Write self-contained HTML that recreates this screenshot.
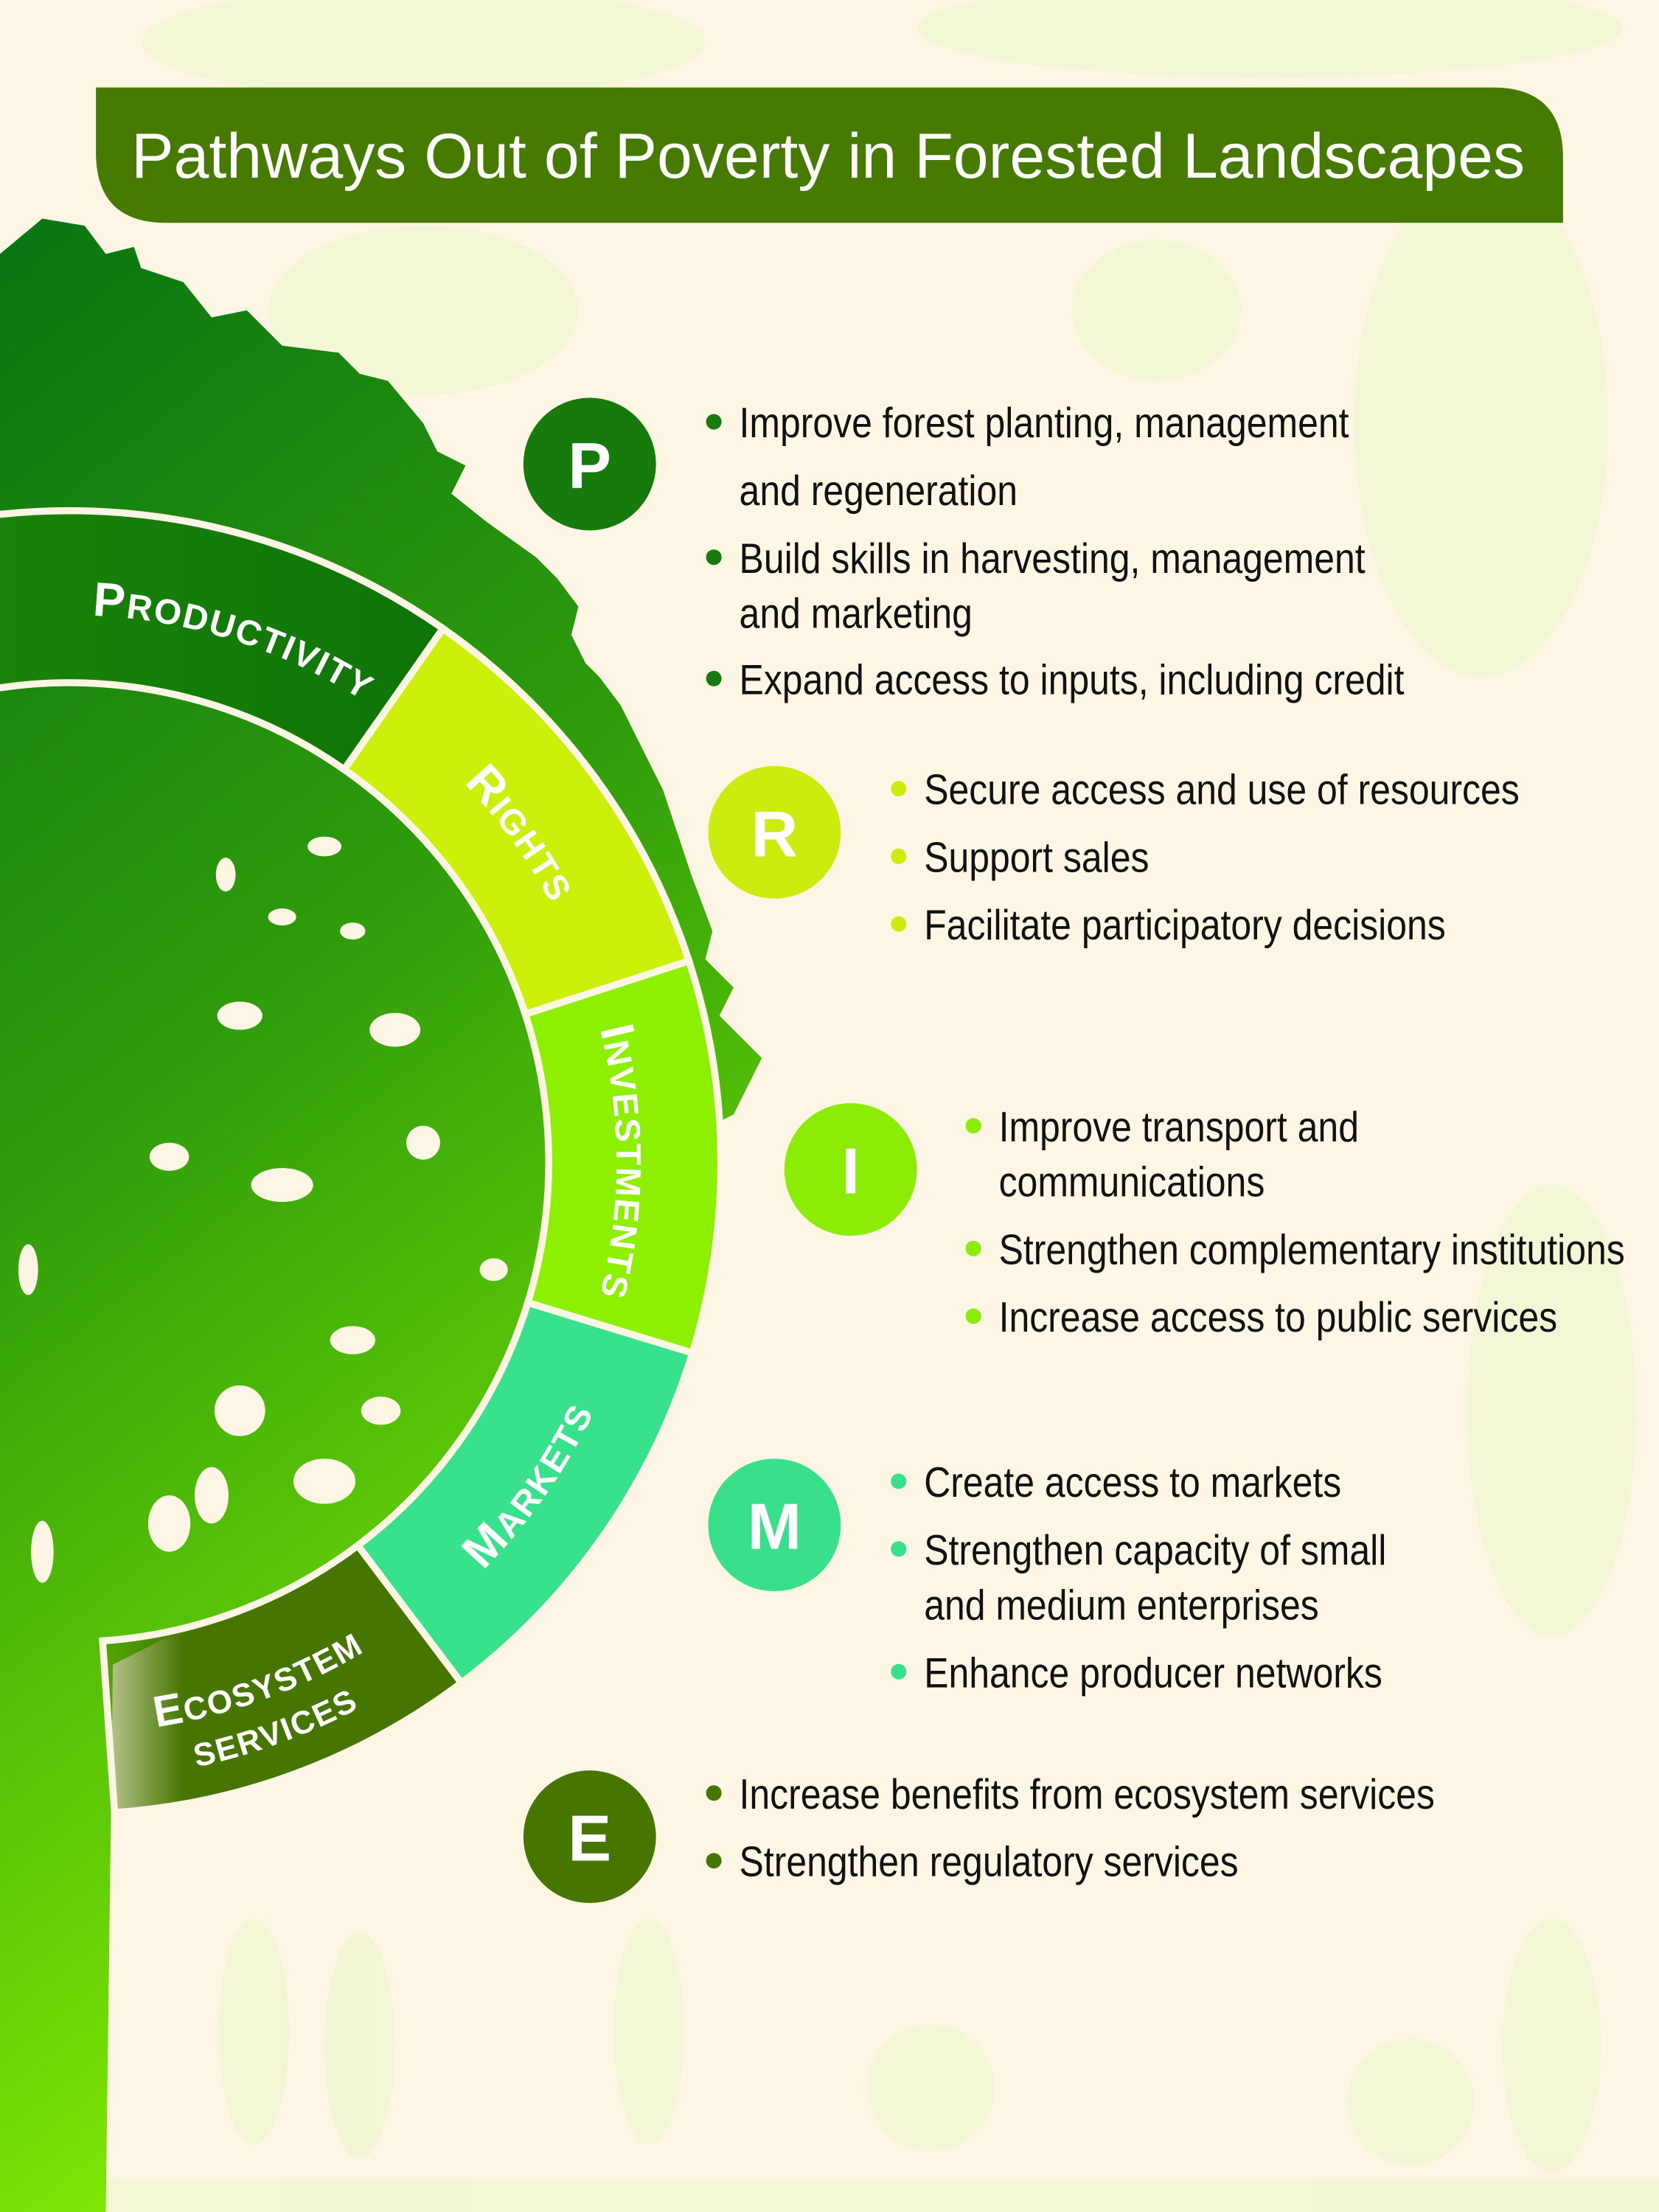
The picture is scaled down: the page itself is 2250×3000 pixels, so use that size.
<!DOCTYPE html>
<html><head><meta charset="utf-8">
<style>
html,body{margin:0;padding:0;background:#fdf6e4;}
svg{display:block;}
</style></head>
<body>
<svg id="s" width="2250" height="3000" viewBox="0 0 1176 1568" preserveAspectRatio="none" xmlns="http://www.w3.org/2000/svg">
<defs>
<linearGradient id="tree" x1="0" y1="0" x2="0.3" y2="1">
<stop offset="0" stop-color="#0a7412"/>
<stop offset="0.45" stop-color="#2f9c0c"/>
<stop offset="0.75" stop-color="#5cc806"/>
<stop offset="1" stop-color="#86ec04"/>
</linearGradient>
<linearGradient id="eco" x1="70" y1="0" x2="130" y2="0" gradientUnits="userSpaceOnUse">
<stop offset="0" stop-color="#467500" stop-opacity="0.3"/>
<stop offset="1" stop-color="#467500"/>
</linearGradient>
<linearGradient id="prod" x1="0" y1="0" x2="1" y2="0">
<stop offset="0" stop-color="#1a8408"/>
<stop offset="1" stop-color="#0f7408"/>
</linearGradient>
</defs>
<rect width="1176" height="1568" fill="#fdf6e4"/>
<g fill="#f0f7d2" opacity="0.8">
<ellipse cx="300" cy="30" rx="200" ry="40"/>
<ellipse cx="900" cy="20" rx="250" ry="35"/>
<ellipse cx="1050" cy="300" rx="90" ry="180"/>
<ellipse cx="820" cy="220" rx="60" ry="50"/>
<ellipse cx="1100" cy="1000" rx="60" ry="160"/>
<ellipse cx="300" cy="220" rx="110" ry="60"/>
<ellipse cx="180" cy="1440" rx="25" ry="80"/>
<ellipse cx="255" cy="1450" rx="25" ry="80"/>
<ellipse cx="460" cy="1440" rx="25" ry="80"/>
<ellipse cx="660" cy="1480" rx="45" ry="45"/>
<ellipse cx="1000" cy="1490" rx="45" ry="45"/>
<ellipse cx="1100" cy="1450" rx="35" ry="90"/>
<rect x="0" y="1545" width="1176" height="23"/>
</g>
<path d="M68,62 H1058 Q1108,62 1108,112 V158 H118 Q68,158 68,108 Z" fill="#467a00"/>
<text x="587" y="126" text-anchor="middle" font-family="Liberation Sans, sans-serif" style="font-size:45px" fill="#fff">Pathways Out of Poverty in Forested Landscapes</text>
<path fill="url(#tree)" d="M0,180 L30,155 L60,160 L75,180 L95,175 L100,190 L130,200 L150,225 L175,220 L200,245 L240,250 L255,265 L275,270 L300,300 L310,320 L330,330 L320,350 L345,370 L380,395 L395,410 L410,430 L405,450 L415,470 L425,480 L440,500 L455,530 L470,560 L480,590 L490,620 L505,660 L500,680 L520,700 L510,720 L540,750 L520,790 L500,800 L460,860 L420,900 L380,960 L340,1020 L300,1080 L270,1110 L200,1140 L120,1160 L80,1180 L75,1568 L0,1568 Z"/>
<g fill="#fdf6e4">
<ellipse cx="160" cy="620" rx="7" ry="12"/><ellipse cx="230" cy="600" rx="12" ry="7"/>
<ellipse cx="200" cy="650" rx="10" ry="6"/><ellipse cx="250" cy="660" rx="9" ry="6"/>
<ellipse cx="170" cy="720" rx="16" ry="10"/><ellipse cx="280" cy="730" rx="18" ry="12"/>
<ellipse cx="120" cy="820" rx="14" ry="10"/><ellipse cx="200" cy="840" rx="22" ry="12"/>
<ellipse cx="300" cy="810" rx="12" ry="12"/><ellipse cx="250" cy="950" rx="16" ry="10"/>
<ellipse cx="170" cy="1000" rx="18" ry="18"/><ellipse cx="230" cy="1050" rx="22" ry="16"/>
<ellipse cx="120" cy="1080" rx="15" ry="20"/><ellipse cx="20" cy="900" rx="7" ry="18"/>
<ellipse cx="30" cy="1100" rx="8" ry="22"/><ellipse cx="350" cy="900" rx="10" ry="8"/>
<ellipse cx="150" cy="1060" rx="12" ry="20"/><ellipse cx="270" cy="1000" rx="14" ry="10"/>
</g>
<g id="ring"></g>
<g font-family="Liberation Sans, sans-serif" font-weight="bold" style="font-size:46px" fill="#fff" text-anchor="middle">
<circle cx="418" cy="329" r="47" fill="#167a0c"/><text x="418" y="346">P</text>
<circle cx="549" cy="590" r="47" fill="#ccec10"/><text x="549" y="607">R</text>
<circle cx="603" cy="829" r="47" fill="#8cec06"/><text x="603" y="846">I</text>
<circle cx="549" cy="1081" r="47" fill="#38e08c"/><text x="549" y="1098">M</text>
<circle cx="418" cy="1302" r="47" fill="#467500"/><text x="418" y="1319">E</text>
</g>
<g id="bul" font-family="Liberation Sans, sans-serif" style="font-size:30px" fill="#111"></g>
</svg>
<script>
var NS="http://www.w3.org/2000/svg";
var cx=49,cy=824,R=462,r=340;
function P(rad,a){a=a*Math.PI/180;return [cx+rad*Math.cos(a),cy+rad*Math.sin(a)];}
function seg(a1,a2,fill){
 var p1=P(R,a1),p2=P(R,a2),p3=P(r,a2),p4=P(r,a1);
 var d="M"+p1+" A"+R+","+R+" 0 0 1 "+p2+" L"+p3+" A"+r+","+r+" 0 0 0 "+p4+" Z";
 var e=document.createElementNS(NS,"path");e.setAttribute("d",d);e.setAttribute("fill",fill);
 e.setAttribute("stroke","#fdf6e4");e.setAttribute("stroke-width","5");
 document.getElementById("ring").appendChild(e);
}
seg(-100,-55,"url(#prod)");seg(-55,-18,"#ccf00a");seg(-18,17,"#8cf000");seg(17,53,"#38e28c");seg(53,86,"url(#eco)");
var n=0;
function lab(rad,a1,a2,cw,big,small,fs){
 var id="tp"+(n++);var p1=P(rad,a1),p2=P(rad,a2);
 var path=document.createElementNS(NS,"path");path.setAttribute("id",id);
 path.setAttribute("d","M"+p1+" A"+rad+","+rad+" 0 0 "+(cw?1:0)+" "+p2);path.setAttribute("fill","none");
 document.getElementById("ring").appendChild(path);
 var t=document.createElementNS(NS,"text");
 t.setAttribute("fill","#fff");
 t.setAttribute("style","font-family:'Liberation Sans',sans-serif;font-weight:bold;font-size:"+fs+"px;letter-spacing:1px");
 var tp=document.createElementNS(NS,"textPath");tp.setAttribute("href","#"+id);
 tp.setAttributeNS("http://www.w3.org/1999/xlink","xlink:href","#"+id);
 tp.setAttribute("startOffset","50%");tp.setAttribute("text-anchor","middle");
 if(big){var s1=document.createElementNS(NS,"tspan");s1.setAttribute("style","font-size:"+Math.round(fs*1.35)+"px");s1.textContent=big;tp.appendChild(s1);}
 var s2=document.createElementNS(NS,"tspan");s2.setAttribute("style","font-size:"+fs+"px");s2.textContent=small;tp.appendChild(s2);
 t.appendChild(tp);document.getElementById("ring").appendChild(t);
}
lab(388,-110,-35,true,"P","RODUCTIVITY",25);
lab(388,-60,-12,true,"R","IGHTS",25);
lab(388,-25,25,true,"I","NVESTMENTS",25);
lab(412,60,10,false,"M","ARKETS",25);
lab(405,98,42,false,"E","COSYSTEM",23);
lab(438,93,47,false,"","SERVICES",23);
var items=[
 [506,299,"#167a0c","Improve forest planting, management"],[506,347,null,"and regeneration"],
 [506,395,"#167a0c","Build skills in harvesting, management"],[506,434,null,"and marketing"],
 [506,481,"#167a0c","Expand access to inputs, including credit"],
 [637,559,"#ccec10","Secure access and use of resources"],[637,607,"#ccec10","Support sales"],
 [637,655,"#ccec10","Facilitate participatory decisions"],
 [690,798,"#8cec06","Improve transport and"],[690,837,null,"communications"],
 [690,885,"#8cec06","Strengthen complementary institutions"],[690,933,"#8cec06","Increase access to public services"],
 [637,1050,"#38e08c","Create access to markets"],[637,1098,"#38e08c","Strengthen capacity of small"],
 [637,1137,null,"and medium enterprises"],[637,1185,"#38e08c","Enhance producer networks"],
 [506,1271,"#467500","Increase benefits from ecosystem services"],[506,1319,"#467500","Strengthen regulatory services"]
];
var g=document.getElementById("bul");
items.forEach(function(it){
 if(it[2]){var c=document.createElementNS(NS,"circle");c.setAttribute("cx",it[0]);c.setAttribute("cy",it[1]);c.setAttribute("r","5.5");c.setAttribute("fill",it[2]);g.appendChild(c);}
 var gg=document.createElementNS(NS,"g");gg.setAttribute("transform","translate("+(it[0]+18)+","+(it[1]+11)+") scale(0.87,1)");
 var t=document.createElementNS(NS,"text");t.setAttribute("x","0");t.setAttribute("y","0");t.textContent=it[3];
 gg.appendChild(t);g.appendChild(gg);
});
</script>
</body></html>
